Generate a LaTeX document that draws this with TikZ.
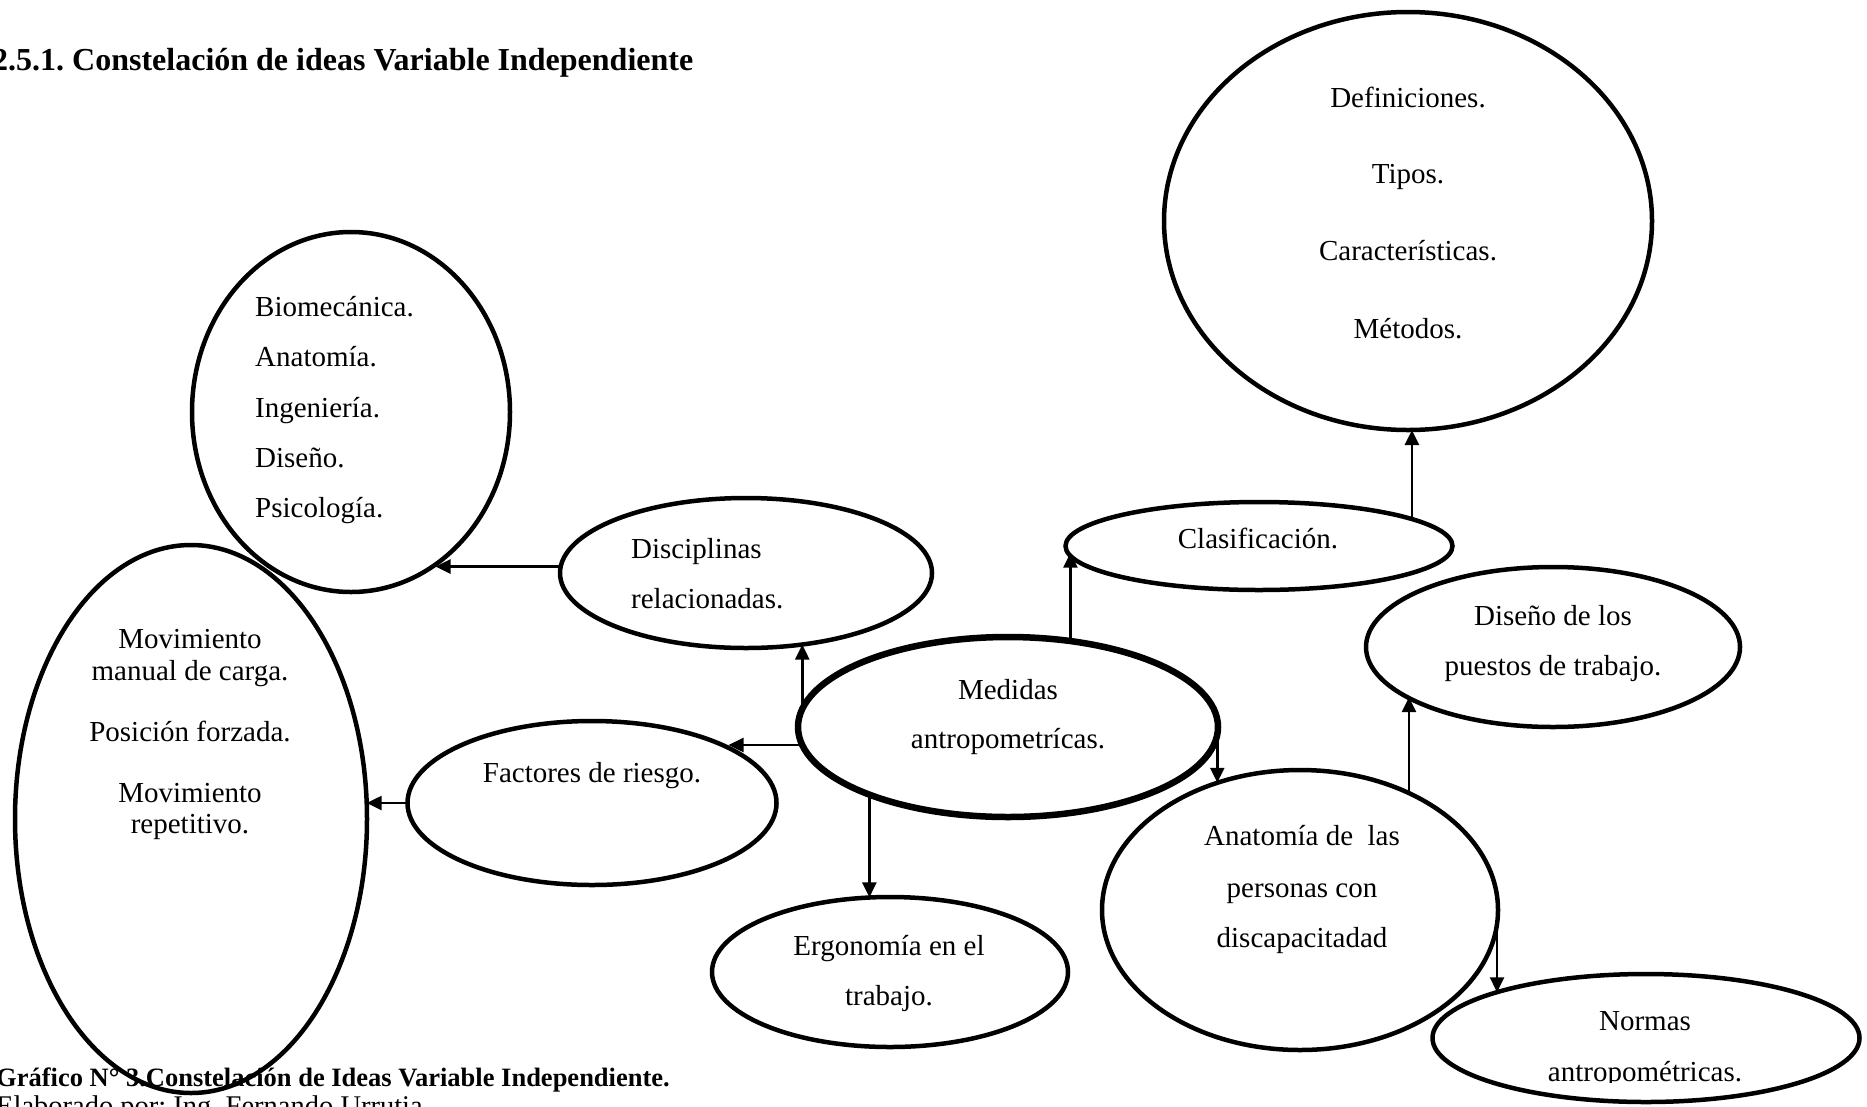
\documentclass[tikz,border=0pt]{standalone}
\usepackage{fontspec}
\setmainfont{Liberation Serif}
\usetikzlibrary{shapes.geometric,arrows.meta}
\frenchspacing

\begin{document}
\begin{tikzpicture}[x=1pt,y=-1pt,
  bubble/.style={draw, ellipse, line width=4.5pt, inner sep=0pt, outer sep=0pt},
  arr/.style={-{Triangle[length=15pt,width=14pt]}, line width=2.5pt},
  txt/.style={anchor=base, inner sep=0pt, font=\fontsize{29}{35}\selectfont},
  ltxt/.style={txt, anchor=base west},
  head/.style={anchor=base west, inner sep=0pt, font=\bfseries\fontsize{32}{38}\selectfont},
  caption/.style={anchor=base west, inner sep=0pt, font=\bfseries\fontsize{26.5}{32}\selectfont},
  note/.style={anchor=base west, inner sep=0pt, font=\fontsize{28.5}{34}\selectfont}
]
\clip (0,0) rectangle (1867,1106);

% bubbles
\node[bubble, minimum width=488pt, minimum height=418pt] (def) at (1408,221) {};
\node[bubble, minimum width=318pt, minimum height=360pt] (bio) at (351,412) {};
\node[bubble, minimum width=352pt, minimum height=548pt] (mov) at (191,819) {};
\node[bubble, minimum width=372pt, minimum height=150pt] (disc) at (746,573) {};
\node[bubble, minimum width=387pt, minimum height=88pt] (clas) at (1259,546) {};
\node[bubble, minimum width=374pt, minimum height=160pt] (dis) at (1553,647) {};
\node[bubble, line width=6.5pt, minimum width=420pt, minimum height=180pt] (med) at (1008,727) {};
\node[bubble, minimum width=369pt, minimum height=164pt] (fac) at (592,803) {};
\node[bubble, minimum width=396pt, minimum height=280pt] (anat) at (1300,910) {};
\node[bubble, minimum width=356pt, minimum height=150pt] (ergo) at (890,972) {};
\node[bubble, minimum width=427pt, minimum height=128pt] (norm) at (1646,1038) {};

% texts
\node[txt] (t-def1) at (1408,107) {Definiciones.};
\node[txt] (t-def2) at (1408,183) {Tipos.};
\node[txt] (t-def3) at (1408,260) {Características.};
\node[txt] (t-def4) at (1408,338) {Métodos.};

\node[ltxt] (t-bio1) at (255,316) {Biomecánica.};
\node[ltxt] (t-bio2) at (255,366) {Anatomía.};
\node[ltxt] (t-bio3) at (255,417) {Ingeniería.};
\node[ltxt] (t-bio4) at (255,467) {Diseño.};
\node[ltxt] (t-bio5) at (255,517) {Psicología.};

\node[txt] (t-mov1) at (190,648) {Movimiento};
\node[txt] (t-mov2) at (190,680) {manual de carga.};
\node[txt] (t-mov3) at (190,741) {Posición forzada.};
\node[txt] (t-mov4) at (190,802) {Movimiento};
\node[txt] (t-mov5) at (190,833) {repetitivo.};

\node[ltxt] (t-disc1) at (631,558) {Disciplinas};
\node[ltxt] (t-disc2) at (631,608) {relacionadas.};

\node[txt] (t-med1) at (1008,699) {Medidas};
\node[txt] (t-med2) at (1008,748) {antropometrícas.};

\node[txt] (t-fac) at (592,782) {Factores de riesgo.};

\node[txt] (t-ergo1) at (889,955) {Ergonomía en el};
\node[txt] (t-ergo2) at (889,1005) {trabajo.};

\node[txt] (t-clas) at (1258,548) {Clasificación.};

\node[txt] (t-dis1) at (1553,625) {Diseño de los};
\node[txt] (t-dis2) at (1553,675) {puestos de trabajo.};

\node[txt] (t-anat1) at (1302,845) {Anatomía de\ \ las};
\node[txt] (t-anat2) at (1302,897) {personas con};
\node[txt] (t-anat3) at (1302,947) {discapacitadad};

\node[txt] (t-norm1) at (1645,1030) {Normas};
\begin{scope}
  \clip (1400,900) rectangle (1867,1082);
  \node[txt] (t-norm2) at (1645,1081) {antropométricas.};
\end{scope}

% connectors
\draw[arr] (disc.178) -- (disc.178 -| bio.-61);
\draw[arr] (fac.west) -- (fac.west -| mov.5.2);
\draw[arr] (med.185.6) -- (med.185.6 -| fac.22.5);
\draw[arr] (med.175.9) -- (med.175.9 |- disc.-52.5);
\draw[arr] (med.206.8) -- (med.206.8 |- ergo.103.6);
\draw[arr] (med.54.6) -- (med.54.6 |- clas.182.3);
\draw[arr] (clas.10.6) -- (clas.10.6 |- def.south);
\draw[arr] (med.-2.4) -- (med.-2.4 |- anat.123.2);
\draw[arr] (anat.47.3) -- (anat.47.3 |- dis.199.2);
\draw[arr] (anat.-4) -- (anat.-4 |- norm.163);

% heading and caption
\node[head] (title) at (-8,70) {2.5.1. Constelación de ideas Variable Independiente};
\node[caption] (cap) at (-4,1086) {Gráfico N° 3.Constelación de Ideas Variable Independiente.};
\node[note] (auth) at (-4,1115) {Elaborado por: Ing. Fernando Urrutia};
\end{tikzpicture}
\end{document}
